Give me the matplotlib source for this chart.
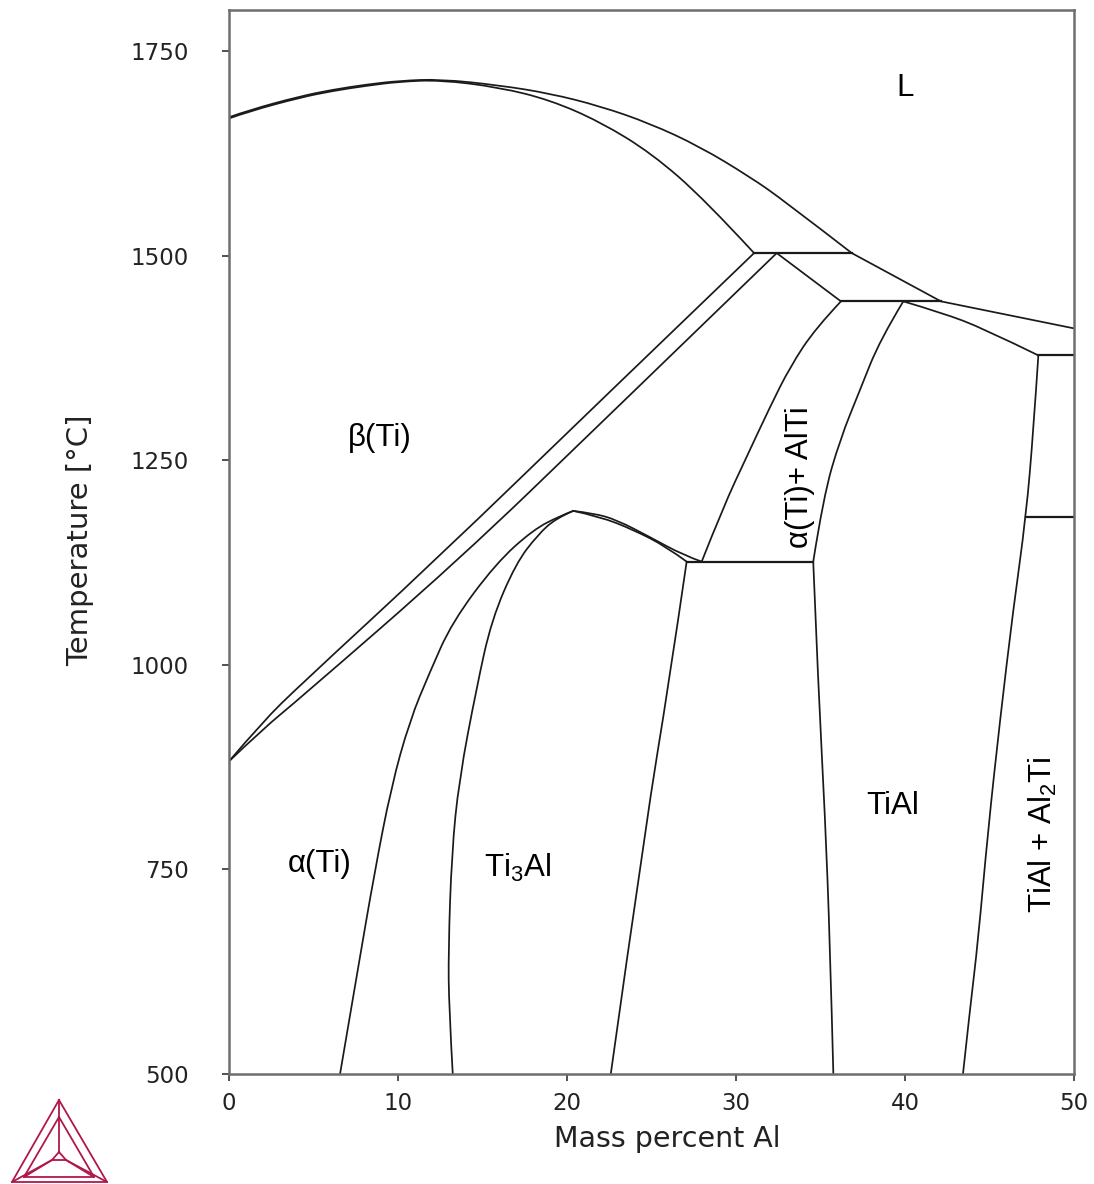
import matplotlib
matplotlib.use("Agg")
import matplotlib.pyplot as plt
from matplotlib.lines import Line2D
from matplotlib.path import Path
from matplotlib.patches import PathPatch

plt.rcParams['font.family'] = ['DejaVu Sans']
plt.rcParams['mathtext.fontset'] = 'custom'
plt.rcParams['mathtext.rm'] = 'Liberation Sans'

# ---------------- data (mass % Al, temperature °C) ----------------
liq_beta_x = [0, 1.24, 4.2, 6.1, 8.15, 10.1, 12.5, 16.0, 19.0, 21.95, 24.9, 27.87, 30.83, 32.78, 36.85]
liq_beta_T = [1669, 1678, 1694.5, 1702.5, 1709, 1713.5, 1715.5, 1708, 1698, 1682.6, 1661.5, 1633, 1596, 1568, 1503]

sol_beta_x = [0, 1.24, 4.2, 6.1, 8.15, 10.1, 12.5, 16.0, 19.0, 21.95, 25.0, 28.17, 31.07]
sol_beta_T = [1667.5, 1676.5, 1693, 1701, 1707.5, 1712.5, 1714.5, 1705.5, 1690, 1663.5, 1625, 1568, 1503]

beta_transus_x = [0, 1.97, 4.2, 12.23, 21.95, 31.07]
beta_transus_T = [882, 930, 975, 1128, 1322, 1503]

alpha_transus_x = [0, 1.97, 4.2, 13.6, 22.0, 32.41]
alpha_transus_T = [882, 921, 959, 1128, 1295, 1503]

a_a2_outer_x = [6.57, 7.6, 8.6, 9.6, 10.7, 11.86, 13.2, 15.8, 18.0, 19.6, 20.37]
a_a2_outer_T = [500, 625, 745, 851, 932, 990, 1052, 1124, 1165, 1182, 1188]

ti3al_left_x = [13.24, 13.02, 12.98, 13.18, 13.61, 14.66, 15.54, 16.98, 18.28, 19.35, 20.37]
ti3al_left_T = [500, 580, 650, 770, 859, 973, 1055, 1124, 1159, 1179, 1188]

dome_upper_x = [20.37, 21.6, 22.94, 24.91, 26.88, 27.97]
dome_upper_T = [1188, 1185, 1177, 1156, 1134, 1126]

dome_lower_x = [20.37, 21.95, 23.92, 25.9, 27.08]
dome_lower_T = [1188, 1181, 1165, 1144, 1126]

ti3al_right_x = [27.08, 26.0, 24.72, 22.59]
ti3al_right_T = [1126, 973, 814, 500]

tial_left_low_x = [34.57, 34.87, 35.27, 35.56, 35.76]
tial_left_low_T = [1126, 973, 814, 660, 500]

alpha_tial_x = [36.21, 34.7, 33.2, 32.01, 30.63, 29.25, 27.97]
alpha_tial_T = [1444, 1411, 1364, 1315, 1254, 1193, 1126]

tial_left_high_x = [39.9, 38.52, 37.34, 36.15, 35.17, 34.57]
tial_left_high_T = [1444, 1397, 1336, 1275, 1205, 1126]

liq_alpha_x = [36.85, 42.13]
liq_alpha_T = [1503, 1444]

sol_alpha_x = [32.41, 36.21]
sol_alpha_T = [1503, 1444]

liq_tial_x = [42.13, 50]
liq_tial_T = [1444, 1411]

sol_tial_x = [39.9, 42.2, 44.63, 47.89]
sol_tial_T = [1444, 1430, 1411, 1378]

tial_right_x = [47.89, 47.6, 47.16, 46.4, 45.62, 44.91, 44.32, 43.85, 43.43]
tial_right_T = [1378, 1287, 1181, 1067, 932, 797, 662, 580, 500]

iso_T = [1503, 1444, 1378, 1181, 1126]
iso_x0 = [31.07, 36.21, 47.89, 47.16, 27.08]
iso_x1 = [36.85, 42.13, 50, 50, 34.57]

labels = ["L", "β(Ti)", "α(Ti)", "Ti$_\\mathregular{3}$Al", "α(Ti)+ AlTi", "TiAl",
          "TiAl + Al$_\\mathregular{2}$Ti"]
label_x = [40.0, 8.93, 5.38, 17.1, 33.79, 39.29, 48.17]
label_T = [1705, 1277, 757, 752, 1229, 827, 792]
label_rot = [0, 0, 0, 0, 90, 0, 90]

x_ticks = [0, 10, 20, 30, 40, 50]
y_ticks = [500, 750, 1000, 1250, 1500, 1750]

# ---------------- figure ----------------
W, H = 1094, 1184
fig = plt.figure(figsize=(W / 100, H / 100), dpi=100)
ax = fig.add_axes([229 / W, 1 - 1074 / H, 845 / W, 1064 / H])


def smooth_curve(ax, xs, ys, **kw):
    """Render a boundary through the read points as a smooth quadratic path."""
    pts = list(zip(xs, ys))
    n = len(pts)
    verts = [pts[0]]
    codes = [Path.MOVETO]
    if n == 2:
        verts.append(pts[1])
        codes.append(Path.LINETO)
    else:
        for i in range(1, n - 1):
            if i < n - 2:
                end = ((pts[i][0] + pts[i + 1][0]) / 2, (pts[i][1] + pts[i + 1][1]) / 2)
            else:
                end = pts[n - 1]
            verts += [pts[i], end]
            codes += [Path.CURVE3, Path.CURVE3]
    ax.add_patch(PathPatch(Path(verts, codes), fill=False, **kw))


curves = [
    (liq_beta_x, liq_beta_T), (sol_beta_x, sol_beta_T),
    (beta_transus_x, beta_transus_T), (alpha_transus_x, alpha_transus_T),
    (a_a2_outer_x, a_a2_outer_T), (ti3al_left_x, ti3al_left_T),
    (dome_upper_x, dome_upper_T), (dome_lower_x, dome_lower_T),
    (ti3al_right_x, ti3al_right_T), (tial_left_low_x, tial_left_low_T),
    (alpha_tial_x, alpha_tial_T), (tial_left_high_x, tial_left_high_T),
    (liq_alpha_x, liq_alpha_T), (sol_alpha_x, sol_alpha_T),
    (liq_tial_x, liq_tial_T), (sol_tial_x, sol_tial_T),
    (tial_right_x, tial_right_T),
]
for cx, cy in curves:
    smooth_curve(ax, cx, cy, edgecolor='#1a1a1a', lw=1.25, capstyle='round',
                 joinstyle='round')
for t, a, b in zip(iso_T, iso_x0, iso_x1):
    ax.plot([a, b], [t, t], color='#1a1a1a', lw=1.6)

for s, lx, ly, r in zip(labels, label_x, label_T, label_rot):
    ax.text(lx, ly, s, rotation=r, ha='center', va='center', fontsize=22.5,
            family='Liberation Sans', color='black')

ax.set_xlim(0, 50)
ax.set_ylim(500, 1800)
ax.set_xticks(x_ticks)
ax.set_yticks(y_ticks)
ax.tick_params(axis='both', direction='out', length=5, width=1.2, color='#333333',
               labelsize=16.5, labelcolor='#222222')
ax.tick_params(axis='y', pad=24)
ax.tick_params(axis='x', pad=8)
for sp in ax.spines.values():
    sp.set_color('#6e6e6e')
    sp.set_linewidth(1.8)

ax.set_xlabel("Mass percent Al", fontsize=20.5, color='#222222')
ax.set_ylabel("Temperature [°C]", fontsize=21, color='#222222')
ax.xaxis.set_label_coords((667 - 229) / 845, (1074 - 1125) / 1064)
ax.yaxis.set_label_coords((94 - 229) / 845, (1074 - 540) / 1064)

# ---------------- Thermo-Calc style logo (decoration) ----------------
logo = '#b0184a'
def P(px, py):
    return (px / W, 1 - py / H)
segs = [
    [(59, 1100), (12, 1182), (107, 1182), (59, 1100)],
    [(59, 1117), (24, 1177), (94, 1177), (59, 1117)],
    [(59, 1100), (59, 1152)],
    [(59, 1152), (52, 1160), (66, 1160), (59, 1152)],
    [(52, 1160), (24, 1177)],
    [(66, 1160), (94, 1177)],
    [(12, 1182), (52, 1160)],
    [(107, 1182), (66, 1160)],
]
for sg in segs:
    xs = [P(a, b)[0] for a, b in sg]
    ys = [P(a, b)[1] for a, b in sg]
    fig.add_artist(Line2D(xs, ys, color=logo, lw=1.3, transform=fig.transFigure))

fig.savefig("out.png", dpi=100)
